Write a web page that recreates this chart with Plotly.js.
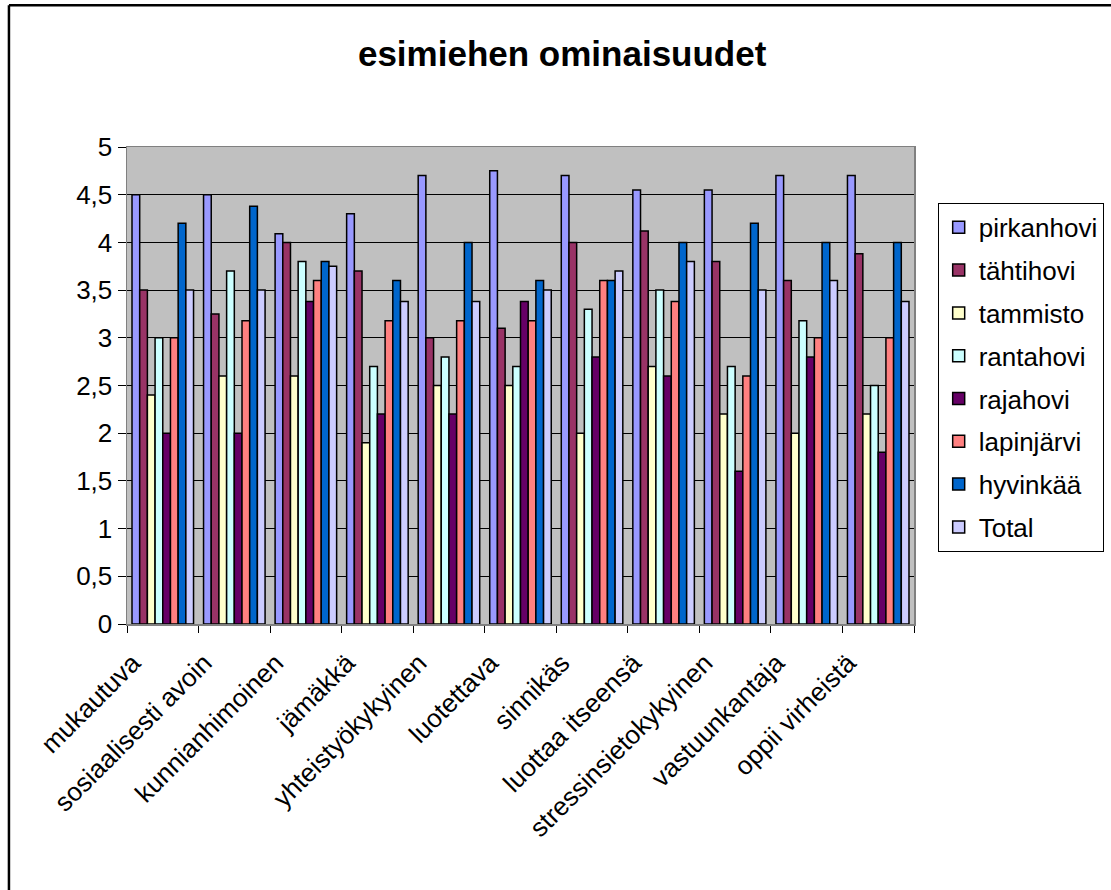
<!DOCTYPE html>
<html>
<head>
<meta charset="utf-8">
<script src="https://cdn.plot.ly/plotly-3.0.1.min.js"></script>
<style>
  html, body { margin: 0; padding: 0; background: #fff; }
  #chart { width: 1111px; height: 890px; }
</style>
</head>
<body>
<div id="chart"></div>
<script>
const categories = ["mukautuva", "sosiaalisesti avoin", "kunnianhimoinen", "jämäkkä", "yhteistyökykyinen", "luotettava", "sinnikäs", "luottaa itseensä", "stressinsietokykyinen", "vastuunkantaja", "oppii virheistä"];

const pirkanhovi = [4.5, 4.5, 4.09, 4.3, 4.7, 4.75, 4.7, 4.55, 4.55, 4.7, 4.7];
const tahtihovi  = [3.5, 3.25, 4.0, 3.7, 3.0, 3.1, 4.0, 4.12, 3.8, 3.6, 3.88];
const tammisto   = [2.4, 2.6, 2.6, 1.9, 2.5, 2.5, 2.0, 2.7, 2.2, 2.0, 2.2];
const rantahovi  = [3.0, 3.7, 3.8, 2.7, 2.8, 2.7, 3.3, 3.5, 2.7, 3.18, 2.5];
const rajahovi   = [2.0, 2.0, 3.38, 2.2, 2.2, 3.38, 2.8, 2.6, 1.6, 2.8, 1.8];
const lapinjarvi = [3.0, 3.18, 3.6, 3.18, 3.18, 3.18, 3.6, 3.38, 2.6, 3.0, 3.0];
const hyvinkaa   = [4.2, 4.38, 3.8, 3.6, 4.0, 3.6, 3.6, 4.0, 4.2, 4.0, 4.0];
const total      = [3.5, 3.5, 3.75, 3.38, 3.38, 3.5, 3.7, 3.8, 3.5, 3.6, 3.38];

const seriesNames = ["pirkanhovi", "tähtihovi", "tammisto", "rantahovi", "rajahovi", "lapinjärvi", "hyvinkää", "Total"];
const seriesValues = [pirkanhovi, tahtihovi, tammisto, rantahovi, rajahovi, lapinjarvi, hyvinkaa, total];
const seriesColors = ["#9999ff", "#993366", "#ffffcc", "#ccffff", "#660066", "#ff8080", "#0066cc", "#ccccff"];

const yTickVals = [0, 0.5, 1, 1.5, 2, 2.5, 3, 3.5, 4, 4.5, 5];
const yTickText = ["0", "0,5", "1", "1,5", "2", "2,5", "3", "3,5", "4", "4,5", "5"];

const FONT = "Liberation Sans, Arial, sans-serif";

const traces = seriesNames.map((name, i) => ({
  type: "bar",
  name: name,
  x: categories,
  y: seriesValues[i],
  legendgroup: "g" + i,
  marker: { color: seriesColors[i], line: { color: "#000000", width: 1.5 } },
  hoverinfo: "x+y+name"
}));

const layout = {
  width: 1111,
  height: 890,
  margin: { l: 127, r: 197, t: 147, b: 266 },
  paper_bgcolor: "#ffffff",
  plot_bgcolor: "#c0c0c0",
  font: { family: FONT, size: 26, color: "#000000" },
  title: {
    text: "<b>esimiehen ominaisuudet</b>",
    font: { family: FONT, size: 35, color: "#000000" },
    x: 0.506, xanchor: "center",
    y: 0.94, yanchor: "middle"
  },
  barmode: "group",
  bargap: 0.14,
  bargroupgap: 0,
  xaxis: {
    type: "category",
    tickangle: -45,
    tickson: "boundaries",
    ticks: "outside",
    ticklen: 7,
    tickcolor: "#000000",
    showline: true,
    linecolor: "#808080",
    linewidth: 1.5,
    mirror: true,
    showgrid: false,
    ticklabelstandoff: 12,
    ticklabelshift: -30,
    tickfont: { family: FONT, size: 26, color: "#000000" }
  },
  yaxis: {
    range: [0, 5],
    tickvals: yTickVals,
    ticktext: yTickText,
    ticks: "outside",
    ticklen: 8,
    tickcolor: "#000000",
    showline: true,
    linecolor: "#808080",
    linewidth: 1.5,
    mirror: true,
    showgrid: true,
    gridcolor: "#000000",
    gridwidth: 1,
    zeroline: false,
    tickfont: { family: FONT, size: 26, color: "#000000" }
  },
  showlegend: true,
  legend: {
    xref: "container", yref: "container",
    x: 0.844, xanchor: "left",
    y: 0.772, yanchor: "top",
    bgcolor: "#ffffff",
    bordercolor: "#000000",
    borderwidth: 1,
    traceorder: "grouped",
    tracegroupgap: 6,
    itemwidth: 30,
    font: { family: FONT, size: 26, color: "#000000" }
  },
  shapes: [
    { type: "line", xref: "paper", yref: "paper", x0: -0.150, x1: 1.26, y0: 1.297, y1: 1.297, line: { color: "#000000", width: 2.5 } },
    { type: "line", xref: "paper", yref: "paper", x0: -0.150, x1: -0.150, y0: 1.297, y1: -0.56, line: { color: "#000000", width: 2.5 } }
  ]
};

Plotly.newPlot("chart", traces, layout, { displayModeBar: false, staticPlot: true });
</script>
</body>
</html>
